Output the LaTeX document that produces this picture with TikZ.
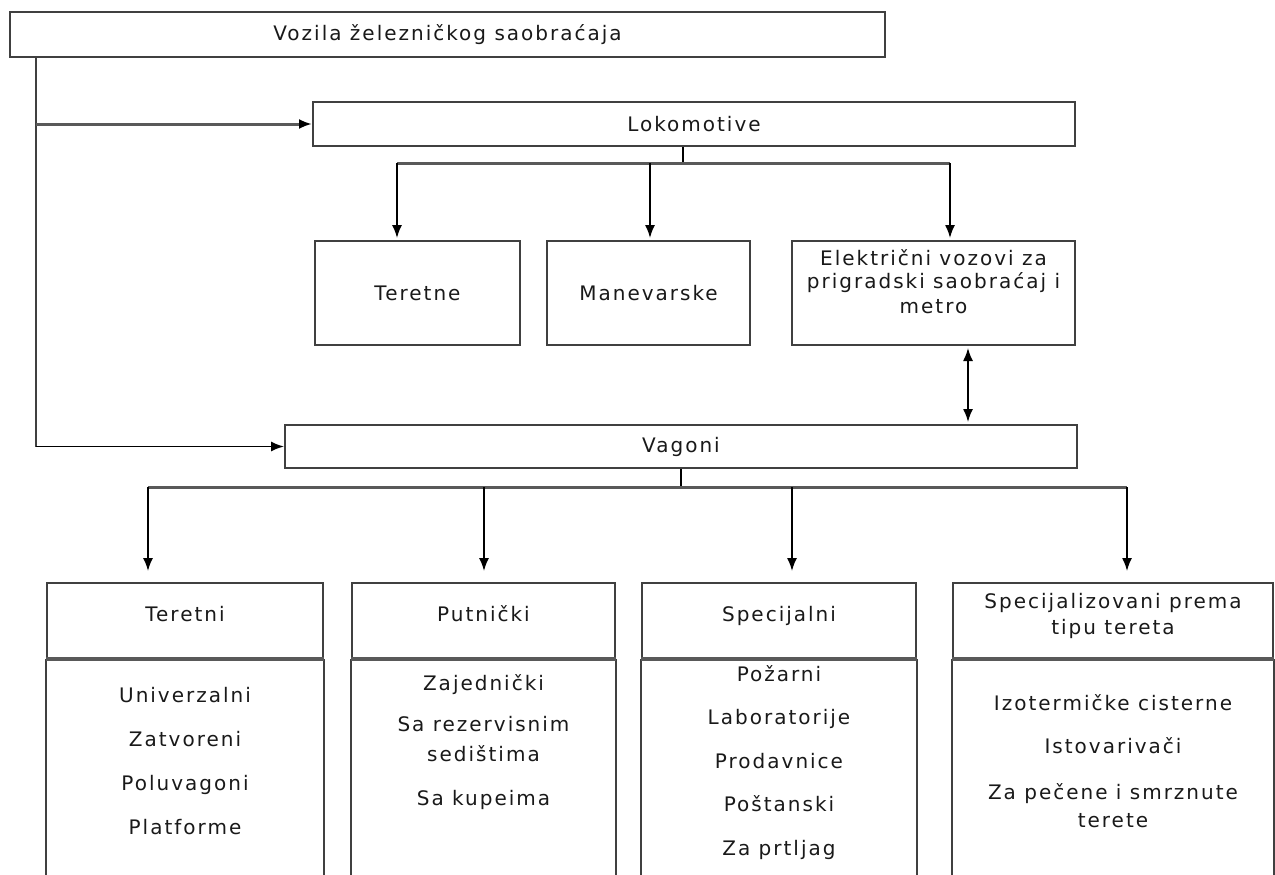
\documentclass[tikz,border=0pt]{standalone}
\usepackage{fontspec}
\setmainfont{DejaVu Sans}[LetterSpace=10]
\usetikzlibrary{arrows.meta}

\tikzset{
  box/.style={draw=black!75, line width=2pt, fill=white, align=center, inner sep=0pt},
  bus/.style={draw=black!65, line width=3pt},
  feed/.style={draw=black, line width=1.6pt},
}

\begin{document}
\begin{tikzpicture}[x=1pt, y=-1pt, >={Latex[length=13pt,width=10pt,color=black]},
  font=\fontsize{20}{26}\selectfont, text=black!90]
\useasboundingbox (0,0) rectangle (1275,875);
\clip (0,0) rectangle (1275,875);

%%%%%%%%%%%% Top level
\node[box, minimum width=875pt, minimum height=45pt] (vozila) at (447.5,34.5) {Vozila železničkog saobraćaja};
\node[box, minimum width=762pt, minimum height=44pt] (lok) at (694,124) {Lokomotive};
\node[box, minimum width=792pt, minimum height=43pt] (vag) at (681,446.5) {Vagoni};

\coordinate (trunk) at ([xshift=27pt]vozila.south west);
\draw[line width=2pt, black!75] (trunk) -- (trunk |- vag.west);
\draw[bus, ->] (trunk |- lok.west) -- (lok.west);
\draw[feed, ->] (trunk |- vag.west) -- (vag.west);

%%%%%%%%%%%% Lokomotive
\node[box, minimum width=205pt, minimum height=104pt] (teretne) at (417.5,293) {Teretne};
\node[box, minimum width=203pt, minimum height=104pt] (manevar) at (648.5,293) {Manevarske};
\node[box, minimum width=283pt, minimum height=104pt] (elvoz) at (933.5,293)
  {Električni vozovi za\\[-2pt]prigradski saobraćaj i\\[-2pt]metro\\[-2pt]\mbox{}};

\coordinate (lokbus) at (683,163);
\coordinate (lbL) at (397,163);
\coordinate (lbR) at (950,163);
\draw[feed] (lok.south -| lokbus) -- (lokbus);
\draw[bus] (lbL) -- (lbR);
\foreach \cx/\nm in {397/teretne, 650/manevar, 950/elvoz} {
  \coordinate (top) at (\cx,163);
  \draw[feed, ->, shorten >=2pt] (top) -- (top |- \nm.north);
}

\coordinate (dbl) at (968,0);
\draw[feed, <->, shorten <=2pt, shorten >=2pt] (elvoz.south -| dbl) -- (vag.north -| dbl);

%%%%%%%%%%%% Vagoni
\coordinate (vagbus) at (681,487);
\coordinate (vbL) at (148,487);
\coordinate (vbR) at (1127,487);
\draw[feed] (vag.south -| vagbus) -- (vagbus);
\draw[bus] (vbL) -- (vbR);

\foreach \nm/\cx/\w/\cy/\ttl/\itm in {
  teretni/185/276/761/{Teretni}/{Univerzalni\\[18pt]Zatvoreni\\[18pt]Poluvagoni\\[18pt]Platforme},
  putnicki/483.5/263/742.5/{Putnički}/{Zajednički\\[15pt]Sa rezervisnim\\[4pt]sedištima\\[18pt]Sa kupeima},
  spec/779/274/763/{Specijalni}/{Požarni\\[17pt]Laboratorije\\[18pt]Prodavnice\\[17pt]Poštanski\\[18pt]Za prtljag},
  tip/1113/320/761.5/{Specijalizovani prema\\tipu tereta}/{Izotermičke cisterne\\[17pt]Istovarivači\\[20pt]Za pečene i smrznute\\[2pt]terete}} {
  \node[box, minimum width=\w pt, minimum height=75pt] (\nm-h) at (\cx,620.5) {\ttl\\[-12pt]\mbox{}};
  \draw[line width=2pt, black!75] (\nm-h.south west) -- ++(0,240) (\nm-h.south east) -- ++(0,240);
  \draw[line width=4pt, black!65] (\nm-h.south west) -- (\nm-h.south east);
  \node[align=center] (\nm-b) at (\cx,\cy) {\itm};
}

\foreach \cx/\nm in {148/teretni, 484/putnicki, 792/spec, 1127/tip} {
  \coordinate (top) at (\cx,487);
  \draw[feed, ->, shorten >=11pt] (top) -- (top |- \nm-h.north);
}
\end{tikzpicture}
\end{document}
